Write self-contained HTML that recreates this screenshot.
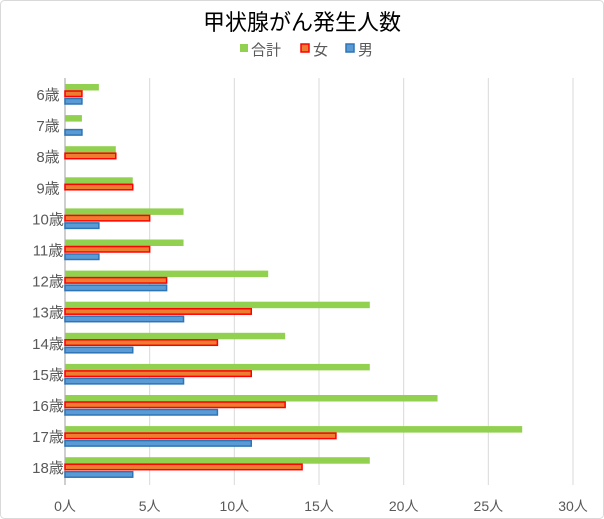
<!DOCTYPE html>
<html><head><meta charset="utf-8"><style>
body{margin:0;background:#fff;}
svg{display:block;font-family:"Liberation Sans","Noto Sans CJK JP",sans-serif;}
</style></head><body>
<svg width="604" height="519" viewBox="0 0 604 519">
<rect x="0.5" y="0.5" width="603" height="518" rx="4" fill="#fff" stroke="#d9d9d9"/>
<text x="302" y="30" text-anchor="middle" font-size="22" fill="#000">甲状腺がん発生人数</text>
<g font-size="15" fill="#595959">
<g><rect x="240" y="44" width="8" height="8" fill="#92D050"/><text x="251" y="55">合計</text></g>
<g><rect x="301" y="44" width="8" height="8" fill="#ED7D31" stroke="#FF0000" stroke-width="1.5"/><text x="313" y="55">女</text></g>
<g><rect x="346" y="44" width="8" height="8" fill="#5B9BD5" stroke="#2E75B6" stroke-width="1.5"/><text x="358" y="55">男</text></g>
</g>
<g id="grid"></g><g id="bars"></g><g id="labels"></g>
</svg>
<script>
const categories=["6歳","7歳","8歳","9歳","10歳","11歳","12歳","13歳","14歳","15歳","16歳","17歳","18歳"];
const totalValues=[2,1,3,4,7,7,12,18,13,18,22,27,18];
const femaleValues=[1,0,3,4,5,5,6,11,9,11,13,16,14];
const maleValues=[1,1,0,0,2,2,6,7,4,7,9,11,4];
const tickValues=[0,5,10,15,20,25,30];
const tickLabels=["0人","5人","10人","15人","20人","25人","30人"];
const NS="http://www.w3.org/2000/svg";
const x0=65,x1=573,maxV=30;
const xs=v=>x0+(x1-x0)*v/maxV;
const yc=i=>94+31.1*i;
function mk(tag,attrs,parent){const e=document.createElementNS(NS,tag);for(const k in attrs)e.setAttribute(k,attrs[k]);parent.appendChild(e);return e;}
const grid=document.getElementById('grid'),bars=document.getElementById('bars'),labels=document.getElementById('labels');
tickValues.forEach((v,i)=>{
 const l=mk('line',{x1:xs(v),x2:xs(v),y1:78,y2:485,stroke:i==0?'#bfbfbf':'#d9d9d9','stroke-width':i==0?1.5:1},grid);
 
 
 const t=mk('text',{x:xs(v),y:511,'text-anchor':'middle','font-size':14,fill:'#595959'},labels);
 t.textContent=tickLabels[i];
 
 
});
categories.forEach((c,i)=>{
 const cy=yc(i);
 const t=mk('text',{x:48,y:cy+6,'text-anchor':'middle','font-size':15,fill:'#595959'},labels);
 t.textContent=c;
 
 
 const g=mk('rect',{x:x0,y:cy-10,width:xs(totalValues[i])-x0,height:6.5,fill:'#92D050'},bars);
 
 
 if(femaleValues[i]>0){
 const r=mk('rect',{x:x0,y:cy-3,width:xs(femaleValues[i])-x0,height:5.5,fill:'#ED7D31',stroke:'#FF0000','stroke-width':1.5},bars);
 
 }
 if(maleValues[i]>0){
 const b=mk('rect',{x:x0,y:cy+4.5,width:xs(maleValues[i])-x0,height:5.5,fill:'#5B9BD5',stroke:'#2E75B6','stroke-width':1.5},bars);
 
 }
});
</script>
</body></html>
